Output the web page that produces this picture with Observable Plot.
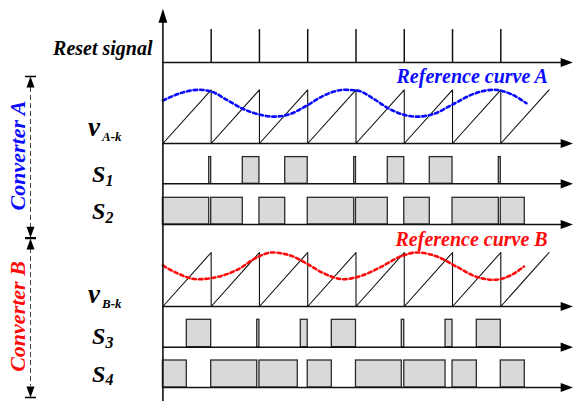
<!DOCTYPE html>
<html>
<head>
<meta charset="utf-8">
<script src="https://cdn.jsdelivr.net/npm/d3@7"></script>
<script src="https://cdn.jsdelivr.net/npm/@observablehq/plot@0.6"></script>
<style>
  body { margin: 0; background: #fff; }
  svg { display: block; }
  svg text { font-family: "Liberation Serif", "DejaVu Serif", "Times New Roman", serif; }
</style>
</head>
<body>
<script>
// Time is measured in switching periods (one reset pulse per period).
const resetTimes = [1, 2, 3, 4, 5, 6, 7];
const rampEnd = 8;

// Reference curves, [time, level] with level 1 = carrier peak.
const refA = [
  [0.00, 0.80], [0.43, 0.955], [0.74, 1.00], [0.99, 0.97], [1.33, 0.81],
  [1.61, 0.665], [1.95, 0.55], [2.30, 0.50], [2.64, 0.55], [2.99, 0.71],
  [3.33, 0.89], [3.75, 1.00], [4.03, 0.985], [4.37, 0.83], [4.65, 0.665],
  [4.99, 0.535], [5.27, 0.50], [5.61, 0.55], [6.03, 0.74], [6.44, 0.925],
  [6.86, 1.00], [7.20, 0.925], [7.53, 0.75]
];
const refB = [
  [0.00, 0.76], [0.30, 0.615], [0.71, 0.505], [1.12, 0.545], [1.54, 0.68],
  [1.95, 0.91], [2.26, 1.00], [2.64, 0.945], [2.99, 0.79], [3.33, 0.615],
  [3.75, 0.505], [4.13, 0.575], [4.51, 0.73], [4.92, 0.925], [5.27, 1.00],
  [5.68, 0.925], [6.10, 0.73], [6.51, 0.545], [6.86, 0.495], [7.20, 0.575],
  [7.48, 0.74]
];

// Gate signals: [on, off] intervals.
const S1 = [[0.959, 1], [1.655, 2], [2.534, 3], [3.963, 4], [4.659, 5], [5.529, 6], [6.959, 7]];
const S2 = [[0, 0.959], [1, 1.655], [2, 2.534], [3, 3.963], [4, 4.659], [5, 5.529], [6, 6.959], [7, 7.497]];
const S3 = [[0.495, 1], [1.954, 2], [2.857, 3], [3.499, 4], [4.949, 5], [5.855, 6], [6.503, 7]];
const S4 = [[0, 0.495], [1, 1.954], [2, 2.794], [3, 3.499], [4, 4.949], [5, 5.855], [6, 6.503], [7, 7.497]];

// Row layout (y in pixels from the top): baseline and full-scale height of each trace.
const lanes = {
  reset: {base: 62, h: 33},
  vA: {base: 143, h: 53.7},
  s1: {base: 183.3, h: 26.7},
  s2: {base: 224, h: 26.7},
  vB: {base: 306, h: 54},
  s3: {base: 346.7, h: 27.4},
  s4: {base: 387, h: 27}
};
const level = (lane, v) => lane.base - v * lane.h;

// Carrier: ramps reset to zero at every reset instant.
const saw = [[0, 0]];
for (const r of resetTimes) saw.push([r, 1], [r, 0]);
saw.push([rampEnd, 1]);

// Filled arrowheads drawn as custom symbols.
const arrowRight = {draw(c) { c.moveTo(0, 0); c.lineTo(-12.5, -4.6); c.lineTo(-12.5, 4.6); c.closePath(); }};
const arrowUp = {draw(c) { c.moveTo(0, 0); c.lineTo(-4.4, 14); c.lineTo(4.4, 14); c.closePath(); }};
const capUp = {draw(c) { c.moveTo(0, 0); c.lineTo(-4, 11); c.lineTo(4, 11); c.closePath(); c.rect(-5.5, -0.8, 11, 1.6); }};
const capDown = {draw(c) { c.moveTo(0, 0); c.lineTo(-4, -11); c.lineTo(4, -11); c.closePath(); c.rect(-5.5, -0.8, 11, 1.6); }};

const serif = "Liberation Serif, DejaVu Serif, serif";
const BLUE = "#0a0aff", RED = "#ff0a0a";
const tEnd = 8.5;

// Row labels and annotations
const labels = [
  {text: "Reset signal", dx: 152, dy: 54.5, size: 20, anchor: "end"},
  {text: "v", dx: 87.5, dy: 135.5, size: 27},
  {text: "A-k", dx: 101.5, dy: 140, size: 13},
  {text: "S", dx: 91.5, dy: 181.5, size: 24},
  {text: "1", dx: 105, dy: 185, size: 16},
  {text: "S", dx: 91.5, dy: 218.5, size: 24},
  {text: "2", dx: 105, dy: 222, size: 16},
  {text: "v", dx: 87.5, dy: 302.5, size: 27},
  {text: "B-k", dx: 101.5, dy: 307, size: 13},
  {text: "S", dx: 91.5, dy: 343.5, size: 24},
  {text: "3", dx: 105, dy: 347, size: 16},
  {text: "S", dx: 91.5, dy: 381, size: 24},
  {text: "4", dx: 105, dy: 384.5, size: 16},
  {text: "Reference curve A", dx: 396, dy: 82, size: 20, fill: BLUE},
  {text: "Reference curve B", dx: 395, dy: 245, size: 20, fill: RED}
];

const laneList = Object.values(lanes);
const pulseMarks = (intervals, lane) =>
  Plot.rect(intervals, {
    x1: d => d[0], x2: d => d[1],
    y1: lane.base, y2: level(lane, 1),
    fill: "#d9d9d9", stroke: "#2b2b2b", strokeWidth: 1.3
  });

const bracketX = -132.4; // offset of the converter brackets from the time axis

const plot = Plot.plot({
  width: 573,
  height: 401,
  margin: 0,
  style: {background: "#fff", overflow: "visible", fontFamily: serif},
  x: {domain: [0, tEnd], range: [162.4, 572.7], axis: null},
  y: {domain: [0, 401], range: [0, 401], axis: null},
  marks: [
    // gate pulses
    pulseMarks(S1, lanes.s1),
    pulseMarks(S2, lanes.s2),
    pulseMarks(S3, lanes.s3),
    pulseMarks(S4, lanes.s4),
    // reset pulses
    Plot.ruleX(resetTimes, {x: d => d, y1: lanes.reset.base, y2: level(lanes.reset, 1), stroke: "#111", strokeWidth: 1.5}),
    // carriers
    Plot.line(saw, {x: d => d[0], y: d => level(lanes.vA, d[1]), stroke: "#111", strokeWidth: 1.1}),
    Plot.line(saw, {x: d => d[0], y: d => level(lanes.vB, d[1]), stroke: "#111", strokeWidth: 1.1}),
    // reference curves
    Plot.line(refA, {x: d => d[0], y: d => level(lanes.vA, d[1]), curve: "monotone-x", stroke: BLUE, strokeWidth: 2.6, strokeDasharray: "3.5,3"}),
    Plot.line(refB, {x: d => d[0], y: d => level(lanes.vB, d[1]), curve: "monotone-x", stroke: RED, strokeWidth: 2.6, strokeDasharray: "3.5,3"}),
    // time axes for every row
    Plot.ruleY(laneList, {y: d => d.base, x1: 0, x2: tEnd - 0.2, stroke: "#111", strokeWidth: 1.6}),
    Plot.dot(laneList, {x: tEnd, y: d => d.base, symbol: arrowRight, fill: "#000", stroke: "none"}),
    // vertical axis
    Plot.ruleX([0], {y1: 401, y2: 16, stroke: "#111", strokeWidth: 1.6}),
    Plot.dot([0], {x: 0, y: 8.3, symbol: arrowUp, fill: "#000", stroke: "none"}),
    // converter brackets
    Plot.ruleX([0], {y1: 87, y2: 227, dx: bracketX, stroke: "#444", strokeWidth: 1, strokeDasharray: "5,3"}),
    Plot.ruleX([0], {y1: 248, y2: 386, dx: bracketX, stroke: "#444", strokeWidth: 1, strokeDasharray: "5,3"}),
    Plot.dot([76, 238], {x: 0, y: d => d, dx: bracketX, symbol: capUp, fill: "#000", stroke: "none"}),
    Plot.dot([237.3, 397], {x: 0, y: d => d, dx: bracketX, symbol: capDown, fill: "#000", stroke: "none"}),
    Plot.text(["Converter A"], {frameAnchor: "top-left", dx: 17, dy: 155, rotate: -90, fill: BLUE,
      fontFamily: serif, fontSize: 22, fontWeight: "bold", fontStyle: "italic", textAnchor: "middle", lineAnchor: "middle"}),
    Plot.text(["Converter B"], {frameAnchor: "top-left", dx: 17, dy: 316, rotate: -90, fill: RED,
      fontFamily: serif, fontSize: 22, fontWeight: "bold", fontStyle: "italic", textAnchor: "middle", lineAnchor: "middle"}),
    // row labels
    ...labels.map(l => Plot.text([l.text], {
      frameAnchor: "top-left", dx: l.dx, dy: l.dy,
      textAnchor: l.anchor || "start", lineAnchor: "bottom",
      fill: l.fill || "#000", fontFamily: serif, fontSize: l.size,
      fontWeight: "bold", fontStyle: "italic"
    }))
  ]
});

document.body.appendChild(plot);
</script>
</body>
</html>
